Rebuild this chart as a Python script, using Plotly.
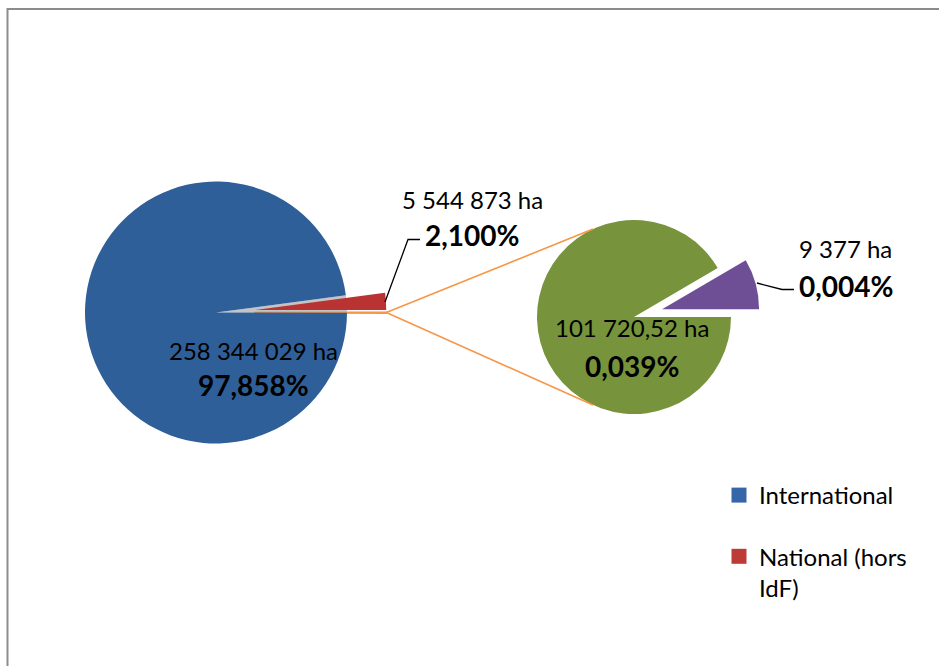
import math
import plotly.graph_objects as go

# ---------------- data ----------------
main_labels = ["National (hors IdF)", "Autres", "International"]
main_values = [5544873, None, 258344029]          # "Autres" = sum of the secondary pie
sub_labels = ["IdF (2)", "IdF (1)"]
sub_values = [9377, 101720.52]
legend_labels = ["International", "National (hors IdF)"]

main_values[1] = sum(sub_values)
total = sum(main_values)

# ---------------- styling ----------------
W, H = 939, 666
FONT = "Lato, Carlito, Calibri, sans-serif"
BLUE, RED, GREEN, PURPLE = "#2F5F98", "#B93333", "#77933C", "#6E4F96"
LEG_BLUE, LEG_RED = "#3466A8", "#BE3A36"
ORANGE = "#F79646"
SHADOW = "#C4C4C4"

MAIN_C, MAIN_R = (216, 312.5), 131
SUB_C, SUB_R = (634, 317), 97
PULL = 0.3


def px(x, y):
    return x / W, 1 - y / H


def dom(c, half):
    x0, y1 = px(c[0] - half, c[1] - half)
    x1, y0 = px(c[0] + half, c[1] + half)
    return dict(x=[x0, x1], y=[y0, y1])


def fmt_ha(v):
    if float(v).is_integer():
        s = f"{v:,.0f}".replace(",", " ")
    else:
        s = f"{v:,.2f}".replace(",", " ").replace(".", ",")
    return s + " ha"


def fmt_pct(v):
    return f"{100 * v / total:.3f}".replace(".", ",") + "%"


fig = go.Figure()

# rotation so that the first slice ends on the horizontal (3 o'clock)
rot_main = 90 - 360 * main_values[0] / total
rot_sub = 90 - 360 * sub_values[0] / sum(sub_values)

# shadow (gap behind the exploded slice)
fig.add_trace(go.Pie(
    labels=main_labels, values=main_values, sort=False, direction="clockwise",
    rotation=rot_main, domain=dom(MAIN_C, MAIN_R),
    marker=dict(colors=[SHADOW, "rgba(0,0,0,0)", "rgba(0,0,0,0)"], line=dict(width=0)),
    textinfo="none", hoverinfo="skip", showlegend=False))

# main pie
fig.add_trace(go.Pie(
    labels=main_labels, values=main_values, sort=False, direction="clockwise",
    rotation=rot_main, domain=dom(MAIN_C, MAIN_R * (1 + PULL)),
    pull=[PULL, PULL, 0],
    marker=dict(colors=[RED, ORANGE, BLUE],
                line=dict(color=[RED, ORANGE, BLUE], width=[0, 2, 0])),
    textinfo="none", hoverinfo="label+value", showlegend=False))

# secondary pie
fig.add_trace(go.Pie(
    labels=sub_labels, values=sub_values, sort=False, direction="clockwise",
    rotation=rot_sub, domain=dom(SUB_C, SUB_R * (1 + PULL)),
    pull=[PULL, 0],
    marker=dict(colors=[PURPLE, GREEN], line=dict(width=0)),
    textinfo="none", hoverinfo="label+value", showlegend=False))

# legend entries
for name, col in zip(legend_labels, [LEG_BLUE, LEG_RED]):
    label = name.replace(" (hors IdF)", " (hors<br>IdF)")
    fig.add_trace(go.Scatter(
        x=[None], y=[None], mode="markers", name=label, legendgroup=name,
        marker=dict(symbol="square", size=15, color=col), hoverinfo="skip"))

shapes = []
# frame
shapes.append(dict(type="rect", xref="paper", yref="paper",
                   x0=px(7.5, 0)[0], x1=1.2, y0=-0.2, y1=px(0, 9)[1],
                   line=dict(color="#8C8C8C", width=2)))

# series lines from the exploded "Autres" slice to the secondary pie
sx = MAIN_C[0] + MAIN_R * (1 + PULL)
sy = MAIN_C[1]
for ang in (115, -115):
    ex = SUB_C[0] + SUB_R * math.cos(math.radians(ang))
    ey = SUB_C[1] - SUB_R * math.sin(math.radians(ang))
    x0, y0 = px(sx, sy)
    x1, y1 = px(ex, ey)
    shapes.append(dict(type="line", xref="paper", yref="paper",
                       x0=x0, y0=y0, x1=x1, y1=y1,
                       line=dict(color=ORANGE, width=1.6)))


def leader(points):
    path = ""
    for i, (x, y) in enumerate(points):
        X, Y = px(x, y)
        path += ("M" if i == 0 else "L") + f"{X},{Y} "
    return dict(type="path", xref="paper", yref="paper", path=path,
                line=dict(color="black", width=1.3))


shapes.append(leader([(385, 302), (408, 239.5), (420, 239.5)]))
shapes.append(leader([(757, 283), (782, 289.5), (794, 289.5)]))

annotations = []


def label(x, y, text, size, bold=False):
    X, Y = px(x, y)
    annotations.append(dict(
        x=X, y=Y, xref="paper", yref="paper", showarrow=False,
        text=f"<b>{text}</b>" if bold else text,
        font=dict(family=FONT, size=size, color="black"),
        xanchor="center", yanchor="middle"))


label(254, 351, fmt_ha(main_values[2]), 24)
label(254, 385, fmt_pct(main_values[2]), 28, True)
label(472, 199, fmt_ha(main_values[0]), 24)
label(472, 235, fmt_pct(main_values[0]), 28, True)
label(632, 327.5, fmt_ha(sub_values[1]), 24)
label(632, 366, fmt_pct(sub_values[1]), 28, True)
label(845, 249, fmt_ha(sub_values[0]), 24)
label(846, 285.5, fmt_pct(sub_values[0]), 28, True)

fig.update_layout(
    width=W, height=H, autosize=False,
    margin=dict(l=0, r=0, t=0, b=0),
    paper_bgcolor="white", plot_bgcolor="white",
    xaxis=dict(visible=False), yaxis=dict(visible=False),
    shapes=shapes, annotations=annotations,
    showlegend=True,
    legend=dict(x=px(719, 0)[0], y=px(0, 473)[1], xanchor="left", yanchor="top",
                font=dict(family=FONT, size=24, color="black"),
                bgcolor="rgba(0,0,0,0)", traceorder="grouped",
                tracegroupgap=27, valign="top"),
)

fig.write_html("out.html", config={"displayModeBar": False},
               post_script="document.body.style.margin='0';document.body.style.overflow='hidden';")
